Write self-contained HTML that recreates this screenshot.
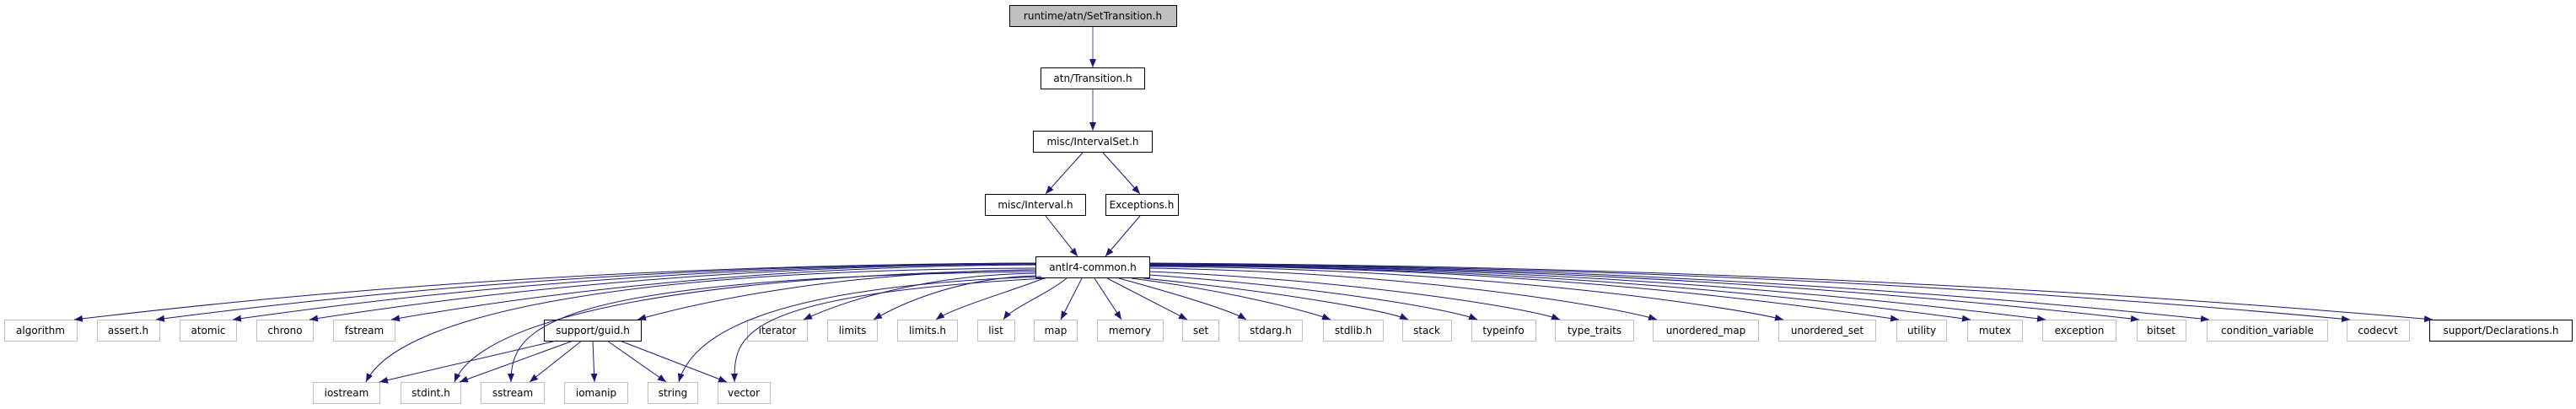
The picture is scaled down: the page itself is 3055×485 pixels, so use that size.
<!DOCTYPE html>
<html><head><meta charset="utf-8"><style>
html,body{margin:0;padding:0;background:#fff}
svg{display:block}
text{font-family:"DejaVu Sans","Liberation Sans",sans-serif;font-size:12px;fill:#000}
.g{fill:#fff;stroke:#bfbfbf;stroke-width:1}
.b{fill:#fff;stroke:#000;stroke-width:1}
path.e{fill:none;stroke:#191970;stroke-width:1}
</style></head><body>
<svg width="3055" height="485" viewBox="0 0 3055 485" xmlns="http://www.w3.org/2000/svg">
<defs><marker id="a" markerUnits="userSpaceOnUse" markerWidth="11" markerHeight="9" refX="10" refY="4" orient="auto"><path d="M0,0 L10,4 L0,8 z" fill="#191970"/></marker></defs>
<g text-anchor="middle">
<rect x="1197.5" y="6.5" width="198" height="25" fill="#bfbfbf" stroke="#000"/><text x="1296" y="23">runtime/atn/SetTransition.h</text>
<rect class="b" x="1234.5" y="80.5" width="123" height="25"/><text x="1296" y="97">atn/Transition.h</text>
<rect class="b" x="1225.5" y="155.5" width="141" height="25"/><text x="1296" y="172">misc/IntervalSet.h</text>
<rect class="b" x="1168.5" y="230.5" width="119" height="25"/><text x="1228" y="247">misc/Interval.h</text>
<rect class="b" x="1311.5" y="230.5" width="86" height="25"/><text x="1354" y="247">Exceptions.h</text>
<rect class="b" x="1228.5" y="304.5" width="135" height="25"/><text x="1296" y="321">antlr4-common.h</text>

<rect class="g" x="5.5" y="379.5" width="86" height="25"/><text x="48" y="396">algorithm</text>
<rect class="g" x="115.5" y="379.5" width="74" height="25"/><text x="152" y="396">assert.h</text>
<rect class="g" x="213.5" y="379.5" width="67" height="25"/><text x="247" y="396">atomic</text>
<rect class="g" x="304.5" y="379.5" width="67" height="25"/><text x="338" y="396">chrono</text>
<rect class="g" x="395.5" y="379.5" width="73" height="25"/><text x="432" y="396">fstream</text>
<rect class="b" x="645.5" y="379.5" width="115" height="25"/><text x="703" y="396">support/guid.h</text>
<rect class="g" x="886.5" y="379.5" width="71" height="25"/><text x="922" y="396">iterator</text>
<rect class="g" x="981.5" y="379.5" width="59" height="25"/><text x="1011" y="396">limits</text>
<rect class="g" x="1064.5" y="379.5" width="71" height="25"/><text x="1100" y="396">limits.h</text>
<rect class="g" x="1159.5" y="379.5" width="44" height="25"/><text x="1181" y="396">list</text>
<rect class="g" x="1226.5" y="379.5" width="51" height="25"/><text x="1252" y="396">map</text>
<rect class="g" x="1301.5" y="379.5" width="78" height="25"/><text x="1340" y="396">memory</text>
<rect class="g" x="1402.5" y="379.5" width="43" height="25"/><text x="1424" y="396">set</text>
<rect class="g" x="1469.5" y="379.5" width="75" height="25"/><text x="1507" y="396">stdarg.h</text>
<rect class="g" x="1569.5" y="379.5" width="71" height="25"/><text x="1605" y="396">stdlib.h</text>
<rect class="g" x="1663.5" y="379.5" width="58" height="25"/><text x="1692" y="396">stack</text>
<rect class="g" x="1745.5" y="379.5" width="76" height="25"/><text x="1783" y="396">typeinfo</text>
<rect class="g" x="1844.5" y="379.5" width="93" height="25"/><text x="1891" y="396">type_traits</text>
<rect class="g" x="1960.5" y="379.5" width="125" height="25"/><text x="2023" y="396">unordered_map</text>
<rect class="g" x="2109.5" y="379.5" width="115" height="25"/><text x="2167" y="396">unordered_set</text>
<rect class="g" x="2249.5" y="379.5" width="59" height="25"/><text x="2279" y="396">utility</text>
<rect class="g" x="2333.5" y="379.5" width="65" height="25"/><text x="2366" y="396">mutex</text>
<rect class="g" x="2422.5" y="379.5" width="87" height="25"/><text x="2466" y="396">exception</text>
<rect class="g" x="2534.5" y="379.5" width="58" height="25"/><text x="2563" y="396">bitset</text>
<rect class="g" x="2617.5" y="379.5" width="143" height="25"/><text x="2689" y="396">condition_variable</text>
<rect class="g" x="2783.5" y="379.5" width="74" height="25"/><text x="2820" y="396">codecvt</text>
<rect class="b" x="2881.5" y="379.5" width="169" height="25"/><text x="2966" y="396">support/Declarations.h</text>

<rect class="g" x="371.5" y="453.5" width="79" height="25"/><text x="411" y="470">iostream</text>
<rect class="g" x="475.5" y="453.5" width="71" height="25"/><text x="511" y="470">stdint.h</text>
<rect class="g" x="570.5" y="453.5" width="75" height="25"/><text x="608" y="470">sstream</text>
<rect class="g" x="669.5" y="453.5" width="75" height="25"/><text x="707" y="470">iomanip</text>
<rect class="g" x="768.5" y="453.5" width="59" height="25"/><text x="798" y="470">string</text>
<rect class="g" x="851.5" y="453.5" width="62" height="25"/><text x="882" y="470">vector</text>
</g>
<g marker-end="url(#a)">
<path class="e" style="stroke:#4a4a9a" d="M1296,32 L1296,80"/>
<path class="e" style="stroke:#4a4a9a" d="M1296,106 L1296,155"/>
<path class="e" d="M1284,181 L1240,230"/>
<path class="e" d="M1308,181 L1352,230"/>
<path class="e" d="M1240,256 L1278,304"/>
<path class="e" d="M1352,256 L1311,304"/>

<path class="e" d="M1228,312 C658,314 259,359 88,379"/>
<path class="e" d="M1228,312 C706,314 341,359 185,379"/>
<path class="e" d="M1228,313 C752,314 419,359 276,379"/>
<path class="e" d="M1228,313 C797,315 496,359 367,379"/>
<path class="e" d="M1228,314 C846,316 579,359 464,379"/>
<path class="e" d="M1228,320 C992,322 827,359 756,379"/>
<path class="e" d="M1228,324 C1090,326 994,360 953,379"/>
<path class="e" d="M1228,327 C1132,330 1065,362 1036,379"/>
<path class="e" d="M1238,330 C1200,345 1130,365 1110,379"/>
<path class="e" d="M1265,330 C1240,350 1200,365 1190,379"/>
<path class="e" d="M1283,330 L1258,379"/>
<path class="e" d="M1298,330 L1330,379"/>
<path class="e" d="M1313,330 L1408,379"/>
<path class="e" d="M1327,330 C1400,350 1460,368 1478,379"/>
<path class="e" d="M1342,330 C1460,345 1555,370 1578,379"/>
<path class="e" d="M1356,330 C1510,345 1645,368 1670,379"/>
<path class="e" d="M1363,326 C1560,340 1720,366 1752,379"/>
<path class="e" d="M1363,322 C1600,332 1810,364 1850,379"/>
<path class="e" d="M1363,318 C1660,322 1910,362 1965,379"/>
<path class="e" d="M1363,316 C1740,318 2040,361 2115,379"/>
<path class="e" d="M1363,315 C1808,316 2119,359 2252,379"/>
<path class="e" d="M1363,315 C1850,316 2191,359 2337,379"/>
<path class="e" d="M1363,314 C1895,316 2266,359 2426,379"/>
<path class="e" d="M1363,314 C1950,316 2361,359 2537,379"/>
<path class="e" d="M1363,313 C1990,316 2431,359 2620,379"/>
<path class="e" d="M1363,313 C2075,316 2573,359 2787,379"/>
<path class="e" d="M1363,312 C2124,316 2657,359 2885,379"/>

<path class="e" d="M1228,318 C700,320 470,380 434,453"/>
<path class="e" d="M1228,320 C700,330 560,400 539,453"/>
<path class="e" d="M1228,322 C640,330 606,390 606,453"/>
<path class="e" d="M1235,328 C900,340 820,400 805,453"/>
<path class="e" d="M1240,330 C870,350 871,400 871,453"/>

<path class="e" d="M660,404 L450,453"/>
<path class="e" d="M680,404 L545,453"/>
<path class="e" d="M690,404 L628,453"/>
<path class="e" d="M703,404 L705,453"/>
<path class="e" d="M720,404 L790,453"/>
<path class="e" d="M735,404 L862,453"/>
</g>
</svg>
</body></html>
